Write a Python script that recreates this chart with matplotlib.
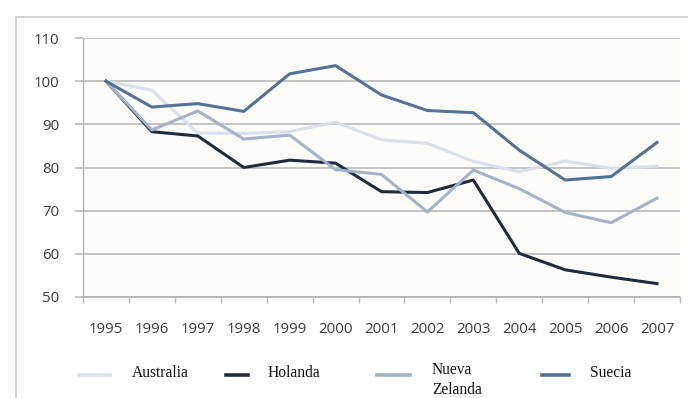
import matplotlib
matplotlib.use("Agg")
import matplotlib.pyplot as plt
from matplotlib.lines import Line2D

years = ["1995", "1996", "1997", "1998", "1999", "2000", "2001",
         "2002", "2003", "2004", "2005", "2006", "2007"]
australia = [100, 97.9, 88.0, 87.9, 88.3, 90.5, 86.4, 85.6, 81.4, 79.0, 81.5, 79.8, 80.3]
holanda = [100, 88.3, 87.3, 80.0, 81.7, 81.0, 74.4, 74.2, 77.1, 60.1, 56.3, 54.6, 53.1]
nueva_zelanda = [100, 88.7, 93.1, 86.6, 87.5, 79.5, 78.4, 69.7, 79.4, 75.1, 69.6, 67.2, 72.9]
suecia = [100, 94.0, 94.8, 93.0, 101.7, 103.6, 96.8, 93.2, 92.7, 84.0, 77.1, 77.9, 85.8]

series = [
    ("Australia", australia, "#d9e0e9"),
    ("Holanda", holanda, "#1f2c3c"),
    ("Nueva\nZelanda", nueva_zelanda, "#a3b3c8"),
    ("Suecia", suecia, "#52729a"),
]

W, H = 688, 398
fig = plt.figure(figsize=(W / 100, H / 100), dpi=100)
fig.patch.set_facecolor("white")

# outer frame (top and left edges)
fig.add_artist(Line2D([16 / W, 1.0], [1 - 17 / H, 1 - 17 / H],
                      color="#c9c9c9", lw=1.2, transform=fig.transFigure))
fig.add_artist(Line2D([16 / W, 16 / W], [1 - 17 / H, 0.0],
                      color="#c9c9c9", lw=1.2, transform=fig.transFigure))

ax = fig.add_axes([83 / W, 1 - 297 / H, (680 - 83) / W, (297 - 38) / H])
ax.set_facecolor("#fdfcf9")

x = list(range(len(years)))
for name, vals, col in series:
    ax.plot(x, vals, color=col, lw=2.2, solid_joinstyle="round", zorder=3)

ax.set_xlim(-0.5, len(years) - 0.5)
ax.set_ylim(50, 110)
ax.set_yticks(range(50, 111, 10))
ax.yaxis.grid(True, color="#bfbfbf", lw=1.3)
ax.set_axisbelow(True)

for s in ("top", "right"):
    ax.spines[s].set_visible(False)
ax.spines["left"].set_color("#b5b5b5")
ax.spines["bottom"].set_color("#b0b0b0")
ax.spines["left"].set_linewidth(1.0)
ax.spines["bottom"].set_linewidth(1.2)

tick_font = dict(family="Open Sans", size=10.8, color="#3a3a3a")
ax.set_xticks(x)
ax.set_xticklabels(years, **tick_font)
ax.set_xticks([i - 0.5 for i in range(len(years) + 1)], minor=True)
ax.tick_params(axis="x", which="major", length=0, pad=18)
ax.tick_params(axis="x", which="minor", length=4, color="#b5b5b5", width=1)
ax.set_yticklabels([str(v) for v in range(50, 111, 10)], **tick_font)
ax.tick_params(axis="y", length=6, color="#bfbfbf", width=1.3, pad=11)

# legend row under the chart
leg_y = 1 - 375 / H
text_font = dict(family="Liberation Serif", size=11.2, color="#111111")
entries = [
    (79, 110, 132, 373),
    (226, 248, 268, 373),
    (377, 410, 432, 380),
    (542, 569, 590, 373),
]
for (name, vals, col), (x0, x1, tx, ty) in zip(series, entries):
    fig.add_artist(Line2D([x0 / W, x1 / W], [leg_y, leg_y], color=col, lw=2.6,
                          transform=fig.transFigure))
    fig.text(tx / W, 1 - ty / H, name, ha="left", va="center",
             linespacing=1.35, **text_font)

fig.savefig("out.png", dpi=100, facecolor="white")
